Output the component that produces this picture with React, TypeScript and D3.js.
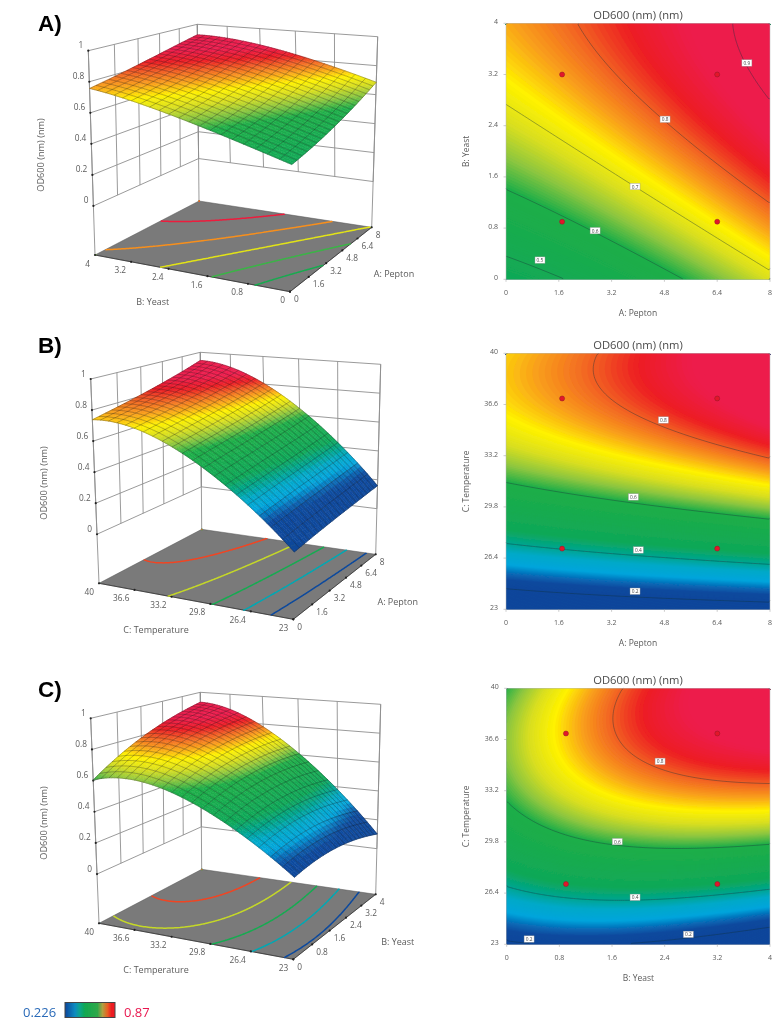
import React from "react";
import * as d3 from "d3";

// ---------- data ----------
const pepton = [0, 1.6, 3.2, 4.8, 6.4, 8];
const yeast = [0, 0.8, 1.6, 2.4, 3.2, 4];
const temperature = [23, 26.4, 29.8, 33.2, 36.6, 40];
const odTicks = [0, 0.2, 0.4, 0.6, 0.8, 1];

// rows follow the y factor (low to high), columns the x factor (low to high)
const odPeptonYeast = [
  [0.47, 0.49, 0.535, 0.582, 0.635, 0.685],
  [0.535, 0.583, 0.62, 0.665, 0.715, 0.765],
  [0.617, 0.655, 0.692, 0.737, 0.785, 0.835],
  [0.676, 0.72, 0.76, 0.795, 0.84, 0.88],
  [0.725, 0.76, 0.79, 0.835, 0.875, 0.91],
  [0.76, 0.785, 0.822, 0.858, 0.89, 0.925],
];
const odPeptonTemp = [
  [0.1, 0.115, 0.13, 0.14, 0.15, 0.16],
  [0.335, 0.354, 0.374, 0.393, 0.413, 0.432],
  [0.535, 0.56, 0.58, 0.605, 0.625, 0.645],
  [0.65, 0.69, 0.725, 0.755, 0.785, 0.805],
  [0.74, 0.765, 0.79, 0.815, 0.86, 0.9],
  [0.735, 0.775, 0.81, 0.85, 0.895, 0.945],
];
const odYeastTemp = [
  [0.19, 0.2, 0.197, 0.18, 0.15, 0.1],
  [0.38, 0.415, 0.43, 0.43, 0.415, 0.38],
  [0.52, 0.565, 0.6, 0.615, 0.612, 0.6],
  [0.615, 0.7, 0.75, 0.775, 0.79, 0.79],
  [0.64, 0.725, 0.78, 0.825, 0.86, 0.885],
  [0.6, 0.72, 0.785, 0.845, 0.895, 0.93],
];

const colorLevels = [0.2, 0.24, 0.27, 0.31, 0.36, 0.4, 0.45, 0.6, 0.64, 0.68, 0.72, 0.76, 0.8, 0.83, 0.87];
const colorValues = ["#0b469b", "#0b4a9e", "#0868b4", "#00a5dc", "#00a9c8", "#00a58f", "#0fa858", "#1fae48", "#8cc63f", "#d8de20", "#fff200", "#f9a01b", "#f15a24", "#ed1c24", "#ed1c4c"];
const barOffsets = [0, 0.2, 0.3, 0.4, 0.65, 0.75, 0.85, 0.93, 1];
const barColors = ["#0b469b", "#0a8bc0", "#0aa58a", "#12a850", "#2fa84a", "#b0a040", "#e86020", "#ed1c24", "#ed1c24"];

const levelsA = [0.5, 0.6, 0.7, 0.8, 0.9];
const levelsBC = [0.2, 0.4, 0.6, 0.8];
const floorLevelsA = [0.53, 0.61, 0.69, 0.77, 0.855];
const floorLevelsBC = [0.23, 0.375, 0.52, 0.67, 0.81];

const labelsA = [
  { x: 7.3, y: 3.38, t: "0.9" }, { x: 4.82, y: 2.5, t: "0.8" }, { x: 3.91, y: 1.45, t: "0.7" },
  { x: 2.7, y: 0.76, t: "0.6" }, { x: 1.03, y: 0.3, t: "0.5" },
];
const labelsB = [
  { x: 4.77, y: 35.57, t: "0.8" }, { x: 3.86, y: 30.46, t: "0.6" }, { x: 4.01, y: 26.94, t: "0.4" }, { x: 3.91, y: 24.2, t: "0.2" },
];
const labelsC = [
  { x: 2.33, y: 35.15, t: "0.8" }, { x: 1.68, y: 29.82, t: "0.6" }, { x: 1.95, y: 26.12, t: "0.4" },
  { x: 0.34, y: 23.35, t: "0.2" }, { x: 2.76, y: 23.66, t: "0.2" },
];
const pointsA = [[1.7, 3.2], [6.4, 3.2], [1.7, 0.9], [6.4, 0.9]];
const pointsB = [[1.7, 37], [6.4, 37], [1.7, 27.03], [6.4, 27.03]];
const pointsC = [[0.9, 37], [3.2, 37], [0.9, 27], [3.2, 27]];

// ---------- layout ----------
const FONT = "'Open Sans','Noto Sans',sans-serif";
const TXT = "#5a5a5a";
const Z_FLOOR = -0.316;
type P = [number, number];
const cubeA = { front: [290, 291.7], right: [371.7, 227.3], back: [199, 201], left: [95, 255], tFront: [293, 76.7], tRight: [377.7, 36.7], tBack: [197.3, 24.3], tLeft: [88.3, 50.7] };
const cubeB = { front: [293.3, 619.3], right: [375.7, 554.3], back: [201.7, 529.3], left: [99, 583.3], tFront: [296.3, 404.3], tRight: [380.7, 364.3], tBack: [200.3, 352.3], tLeft: [90.7, 379] };
const cubeC = { front: [293.3, 959.3], right: [375.7, 894.3], back: [201.7, 869.3], left: [99, 923.3], tFront: [296.3, 744.3], tRight: [380.7, 704.3], tBack: [200.3, 692.3], tLeft: [90.7, 718.3] };

const colorScale = d3.scaleLinear<string>().domain(colorLevels).range(colorValues).interpolate(d3.interpolateRgb).clamp(true);

// ---------- helpers ----------
function quadMap(p00: number[], p10: number[], p11: number[], p01: number[]) {
  const [x0, y0] = p00, [x1, y1] = p10, [x2, y2] = p11, [x3, y3] = p01;
  const dx1 = x1 - x2, dx2 = x3 - x2, sx = x0 - x1 + x2 - x3;
  const dy1 = y1 - y2, dy2 = y3 - y2, sy = y0 - y1 + y2 - y3;
  const den = dx1 * dy2 - dx2 * dy1;
  const g = (sx * dy2 - dx2 * sy) / den, h = (dx1 * sy - sx * dy1) / den;
  const a = x1 - x0 + g * x1, b = x3 - x0 + h * x3, d = y1 - y0 + g * y1, e = y3 - y0 + h * y3;
  return (u: number, v: number): P => {
    const w = g * u + h * v + 1;
    return [(a * u + b * v + x0) / w, (d * u + e * v + y0) / w];
  };
}
// least-squares smooth surface through the values
const powers = [[0, 0], [1, 0], [0, 1], [2, 0], [1, 1], [0, 2], [3, 0], [2, 1], [1, 2], [0, 3]];
function reader(table: number[][]) {
  const k = powers.length;
  const basis = (u: number, v: number) => powers.map(([a, b]) => Math.pow(u, a) * Math.pow(v, b));
  const N = d3.range(k).map(() => new Array(k + 1).fill(0));
  table.forEach((row, j) => row.forEach((z, i) => {
    const f = basis(i / 5, j / 5);
    for (let r = 0; r < k; r++) {
      for (let c = 0; c < k; c++) N[r][c] += f[r] * f[c];
      N[r][k] += f[r] * z;
    }
  }));
  for (let r = 0; r < k; r++) {
    let best = r;
    for (let q = r + 1; q < k; q++) if (Math.abs(N[q][r]) > Math.abs(N[best][r])) best = q;
    [N[r], N[best]] = [N[best], N[r]];
    for (let q = 0; q < k; q++) {
      if (q === r) continue;
      const m = N[q][r] / N[r][r];
      for (let c = r; c <= k; c++) N[q][c] -= m * N[r][c];
    }
  }
  const w = N.map((row, r) => row[k] / row[r]);
  return (u: number, v: number) => {
    const f = basis(u, v);
    let s = 0;
    for (let r = 0; r < k; r++) s += w[r] * f[r];
    return s;
  };
}
function isolines(read: (u: number, v: number) => number, level: number, n = 132, m = 128): P[][] {
  const values = new Float64Array(n * m);
  for (let j = 0; j < m; j++) for (let i = 0; i < n; i++) values[j * n + i] = read((i + 0.5) / n, 1 - (j + 0.5) / m);
  const shape = d3.contours().size([n, m]).contour(values as any, level);
  const out: P[][] = [];
  const same = (a: number[], b: number[]) =>
    (a[0] <= 0 && b[0] <= 0) || (a[0] >= n && b[0] >= n) || (a[1] <= 0 && b[1] <= 0) || (a[1] >= m && b[1] >= m);
  for (const poly of shape.coordinates) for (const ring of poly) {
    let cur: P[] = [];
    for (let k = 0; k < ring.length - 1; k++) {
      const a = ring[k], b = ring[k + 1];
      if (same(a, b)) {
        if (cur.length > 1) out.push(cur);
        cur = [];
      } else {
        if (!cur.length) cur.push([a[0] / n, 1 - a[1] / m]);
        cur.push([b[0] / n, 1 - b[1] / m]);
      }
    }
    if (cur.length > 1) out.push(cur);
  }
  return out;
}
const linePath = d3.line<P>();

// ---------- 3D panel ----------
function Surface3D({ cube, table, xTicks, yTicks, yLabels, floorLevels, title, xTitle, yTitle, xTitlePos, yTitlePos }: any) {
  const floor = quadMap(cube.front, cube.right, cube.back, cube.left);
  const top = quadMap(cube.tFront, cube.tRight, cube.tBack, cube.tLeft);
  const wScale = d3.scaleLinear().domain([Z_FLOOR, 1]).range([0, 1]);
  const uScale = d3.scaleLinear().domain([xTicks[0], xTicks[5]]).range([0, 1]);
  const vScale = d3.scaleLinear().domain([yTicks[0], yTicks[5]]).range([0, 1]);
  const project = (u: number, v: number, z: number): P => {
    const a = floor(u, v), b = top(u, v), w = wScale(z);
    return [a[0] + (b[0] - a[0]) * w, a[1] + (b[1] - a[1]) * w];
  };
  const read = reader(table);
  const MESH = 20, SUB = 3, N = MESH * SUB;
  const quads: any[] = [];
  for (let i = N - 1; i >= 0; i--) for (let j = N - 1; j >= 0; j--) {
    const u0 = i / N, u1 = (i + 1) / N, v0 = j / N, v1 = (j + 1) / N;
    const d = linePath([
      project(u0, v0, read(u0, v0)), project(u1, v0, read(u1, v0)),
      project(u1, v1, read(u1, v1)), project(u0, v1, read(u0, v1)),
    ]) + "Z";
    const c = colorScale(read((u0 + u1) / 2, (v0 + v1) / 2));
    quads.push(<path key={i + "_" + j} d={d} fill={c} stroke={c} strokeWidth={0.5} />);
  }
  const mesh: string[] = [];
  for (let k = 0; k <= MESH; k++) {
    const a: P[] = [], b: P[] = [];
    for (let s = 0; s <= N; s++) {
      const t = s / N, q = k / MESH;
      a.push(project(q, t, read(q, t)));
      b.push(project(t, q, read(t, q)));
    }
    mesh.push(linePath(a)!, linePath(b)!);
  }
  const wall: string[] = [];
  for (const z of odTicks) {
    wall.push(linePath([project(0, 1, z), project(1, 1, z), project(1, 0, z)])!);
  }
  xTicks.forEach((t: number) => wall.push(linePath([project(uScale(t), 1, 0), project(uScale(t), 1, 1)])!));
  yTicks.forEach((t: number) => wall.push(linePath([project(1, vScale(t), 0), project(1, vScale(t), 1)])!));
  wall.push(linePath([project(0, 1, Z_FLOOR), project(0, 1, 1)])!);
  wall.push(linePath([project(1, 1, Z_FLOOR), project(1, 1, 1)])!);
  wall.push(linePath([project(1, 0, Z_FLOOR), project(1, 0, 1)])!);
  const axisTxt = { fontFamily: FONT, fontSize: 8.3, fill: TXT };
  return (
    <g>
      <path d={wall.join("")} fill="none" stroke="#8e8e8e" strokeWidth={0.9} />
      <path d={linePath([cube.front, cube.right, cube.back, cube.left])! + "Z"} fill="#7a7a7a" stroke="#555" strokeWidth={0.5} />
      <path d={linePath([cube.left, cube.front, cube.right])!} fill="none" stroke="#333" strokeWidth={0.8} />
      {floorLevels.map((lv: number) => (
        <path key={lv} d={isolines(read, lv).map((l) => linePath(l.map(([u, v]) => floor(u, v)))).join("")} fill="none" stroke={colorScale(lv)} strokeWidth={1.5} />
      ))}
      {odTicks.map((z) => {
        const [x, y] = project(0, 1, z);
        return (
          <g key={z}>
            <circle cx={x} cy={y} r={1.1} fill="#222" />
            <text x={x - 5} y={y - 6} textAnchor="end" dominantBaseline="central" {...axisTxt}>{z}</text>
          </g>
        );
      })}
      {yTicks.map((t: number, i: number) => {
        const [x, y] = floor(0, vScale(t));
        return (
          <g key={t}>
            <circle cx={x} cy={y} r={1.1} fill="#222" />
            <text x={x - 5} y={y + 8} textAnchor="end" dominantBaseline="central" {...axisTxt}>{yLabels[i]}</text>
          </g>
        );
      })}
      {xTicks.map((t: number) => {
        const [x, y] = floor(uScale(t), 0);
        return (
          <g key={t}>
            <circle cx={x} cy={y} r={1.1} fill="#222" />
            <text x={x + 4} y={y + 7} dominantBaseline="central" {...axisTxt}>{t}</text>
          </g>
        );
      })}
      <text x={yTitlePos[0]} y={yTitlePos[1]} textAnchor="middle" dominantBaseline="central" fontFamily={FONT} fontSize={9} fill={TXT}>{yTitle}</text>
      <text x={xTitlePos[0]} y={xTitlePos[1]} textAnchor="middle" dominantBaseline="central" fontFamily={FONT} fontSize={9} fill={TXT}>{xTitle}</text>
      <text transform={`translate(${title[0]},${title[1]}) rotate(-90)`} textAnchor="middle" dominantBaseline="central" fontFamily={FONT} fontSize={9.2} fill={TXT}>OD600 (nm) (nm)</text>
      {quads}
      <path d={mesh.join("")} fill="none" stroke="#1a1a1a" strokeOpacity={0.52} strokeWidth={0.55} />
    </g>
  );
}

// ---------- contour panel ----------
function ContourPlot({ box, table, xTicks, yTicks, xName, yName, levels, labels, points }: any) {
  const [x0, y0, x1, y1] = box;
  const n = 132, m = 128;
  const read = reader(table);
  const values = new Float64Array(n * m);
  for (let j = 0; j < m; j++) for (let i = 0; i < n; i++) values[j * n + i] = read((i + 0.5) / n, 1 - (j + 0.5) / m);
  const sx = d3.scaleLinear().domain([0, n]).range([x0, x1]);
  const sy = d3.scaleLinear().domain([0, m]).range([y0, y1]);
  const geo = d3.geoPath(d3.geoTransform({ point(this: any, x: number, y: number) { this.stream.point(sx(x), sy(y)); } }));
  const thresholds = d3.range(0.02, 1.05, 0.004);
  const bands = d3.contours().size([n, m]).thresholds(thresholds)(values as any);
  const xS = d3.scaleLinear().domain([xTicks[0], xTicks[5]]).range([x0, x1]);
  const yS = d3.scaleLinear().domain([yTicks[0], yTicks[5]]).range([y1, y0]);
  const cx = (x0 + x1) / 2, cy = (y0 + y1) / 2;
  const tick = { fontFamily: FONT, fontSize: 7, fill: TXT };
  return (
    <g>
      <text x={638} y={y0 - 8.5} textAnchor="middle" dominantBaseline="central" fontFamily={FONT} fontSize={11.2} fill="#4a4a4a">OD600 (nm) (nm)</text>
      <rect x={x0} y={y0} width={x1 - x0} height={y1 - y0} fill={colorScale(0.05)} />
      {bands.map((b, i) => b.coordinates.length ? <path key={i} d={geo(b as any)!} fill={colorScale(b.value)} /> : null)}
      {levels.map((lv: number) => (
        <path key={lv} d={isolines(read, lv).map((l) => linePath(l.map(([u, v]) => [x0 + u * (x1 - x0), y1 - v * (y1 - y0)] as P))).join("")} fill="none" stroke="#17333a" strokeOpacity={0.72} strokeWidth={0.55} />
      ))}
      <rect x={x0} y={y0} width={x1 - x0} height={y1 - y0} fill="none" stroke="#b8b8b8" strokeWidth={0.5} />
      {xTicks.map((t: number) => (
        <g key={t}>
          <line x1={xS(t)} x2={xS(t)} y1={y1} y2={y1 + 2.5} stroke="#999" strokeWidth={0.5} />
          <text x={xS(t)} y={y1 + 13.5} textAnchor="middle" dominantBaseline="central" {...tick}>{t}</text>
        </g>
      ))}
      {yTicks.map((t: number) => (
        <g key={t}>
          <line x1={x0 - 2.5} x2={x0} y1={yS(t)} y2={yS(t)} stroke="#999" strokeWidth={0.5} />
          <text x={x0 - 8} y={yS(t) - 1.5} textAnchor="end" dominantBaseline="central" {...tick}>{t}</text>
        </g>
      ))}
      <text x={cx} y={y1 + 33.5} textAnchor="middle" dominantBaseline="central" fontFamily={FONT} fontSize={8.5} fill={TXT}>{xName}</text>
      <text transform={`translate(465,${cy}) rotate(-90)`} textAnchor="middle" dominantBaseline="central" fontFamily={FONT} fontSize={8.5} fill={TXT}>{yName}</text>
      {points.map(([px, py]: number[], i: number) => (
        <circle key={i} cx={xS(px)} cy={yS(py)} r={2.5} fill="#e3162c" stroke="#8c1c24" strokeWidth={0.5} />
      ))}
      {labels.map((l: any, i: number) => (
        <g key={i}>
          <rect x={xS(l.x) - 5} y={yS(l.y) - 3.2} width={10} height={6.4} fill="#fff" stroke="#9a9a9a" strokeWidth={0.4} />
          <text x={xS(l.x)} y={yS(l.y)} textAnchor="middle" dominantBaseline="central" fontFamily={FONT} fontSize={4.8} fill="#444">{l.t}</text>
        </g>
      ))}
    </g>
  );
}

const panelLetters = [
  { t: "A)", x: 38, y: 31 },
  { t: "B)", x: 38, y: 353 },
  { t: "C)", x: 38, y: 697 },
];

export default function App() {
  return (
    <svg width={782} height={1027} viewBox="0 0 782 1027" style={{ position: "absolute", left: 0, top: 0, display: "block", background: "#fff" }}>
      <defs>
        <linearGradient id="bar" x1="0" x2="1" y1="0" y2="0">
          {barOffsets.map((s, i) => <stop key={s} offset={s} stopColor={barColors[i]} />)}
        </linearGradient>
        <filter id="soft" x="0" y="0" width="100%" height="100%" filterUnits="objectBoundingBox">
          <feGaussianBlur stdDeviation={0.35} />
        </filter>
      </defs>
      <g filter="url(#soft)">
        <rect width={782} height={1027} fill="#fff" />
        <Surface3D cube={cubeA} table={odPeptonYeast} xTicks={pepton} yTicks={yeast} yLabels={yeast} floorLevels={floorLevelsA}
          title={[40, 155]} xTitle="A: Pepton" yTitle="B: Yeast" xTitlePos={[394, 273]} yTitlePos={[152.7, 301]} />
        <Surface3D cube={cubeB} table={odPeptonTemp} xTicks={pepton} yTicks={temperature} yLabels={temperature} floorLevels={floorLevelsBC}
          title={[43, 483]} xTitle="A: Pepton" yTitle="C: Temperature" xTitlePos={[397.7, 601.7]} yTitlePos={[156, 629]} />
        <Surface3D cube={cubeC} table={odYeastTemp} xTicks={yeast} yTicks={temperature} yLabels={temperature} floorLevels={floorLevelsBC}
          title={[43, 823]} xTitle="B: Yeast" yTitle="C: Temperature" xTitlePos={[397.7, 941.7]} yTitlePos={[156, 969]} />
        <ContourPlot box={[506, 23.3, 770, 279.3]} table={odPeptonYeast} xTicks={pepton} yTicks={yeast} xName="A: Pepton" yName="B: Yeast" levels={levelsA} labels={labelsA} points={pointsA} />
        <ContourPlot box={[506, 353.3, 770, 609.3]} table={odPeptonTemp} xTicks={pepton} yTicks={temperature} xName="A: Pepton" yName="C: Temperature" levels={levelsBC} labels={labelsB} points={pointsB} />
        <ContourPlot box={[506.7, 688.3, 770, 944.3]} table={odYeastTemp} xTicks={yeast} yTicks={temperature} xName="B: Yeast" yName="C: Temperature" levels={levelsBC} labels={labelsC} points={pointsC} />
        {panelLetters.map((p) => (
          <text key={p.t} x={p.x} y={p.y} fontFamily="'Liberation Sans',Arial,sans-serif" fontWeight={700} fontSize={22.5} fill="#000">{p.t}</text>
        ))}
        <text x={23} y={1011.5} dominantBaseline="central" fontFamily={FONT} fontSize={13} fill="#2a6ab8">0.226</text>
        <rect x={65} y={1002.5} width={50} height={15} fill="url(#bar)" stroke="#444" strokeWidth={1} />
        <text x={124} y={1011.5} dominantBaseline="central" fontFamily={FONT} fontSize={13} fill="#e8194f">0.87</text>
      </g>
    </svg>
  );
}
